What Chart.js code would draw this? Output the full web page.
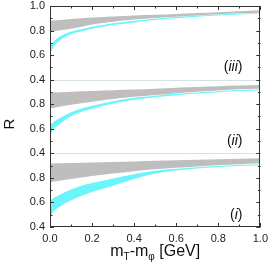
<!DOCTYPE html>
<html>
<head>
<meta charset="utf-8">
<script src="https://cdn.jsdelivr.net/npm/chart.js@4/dist/chart.umd.min.js"></script>
<style>
  html, body { margin: 0; padding: 0; background: #fff; }
</style>
</head>
<body>
<canvas id="ratioChart" width="273" height="271"></canvas>
<script>
// x grids (m_T - m_phi in GeV)
const cyanX = [0, 0.02, 0.05, 0.1, 0.15, 0.2, 0.3, 0.4, 0.5, 0.6, 0.7, 0.8, 0.9, 1.0];
const grayX = [0, 0.1, 0.2, 0.3, 0.4, 0.5, 0.6, 0.7, 0.8, 0.9, 1.0];

// panel (i) - bottom
const cyanHiI = [0.615, 0.64, 0.665, 0.705, 0.735, 0.758, 0.795, 0.83, 0.858, 0.874, 0.887, 0.897, 0.905, 0.912];
const cyanLoI = [0.48, 0.53, 0.57, 0.615, 0.655, 0.685, 0.735, 0.79, 0.835, 0.86, 0.876, 0.888, 0.896, 0.903];
const grayHiI = [0.918, 0.922, 0.926, 0.93, 0.934, 0.939, 0.943, 0.947, 0.951, 0.955, 0.959];
const grayLoI = [0.765, 0.79, 0.815, 0.835, 0.855, 0.87, 0.882, 0.893, 0.903, 0.912, 0.92];

// panel (ii) - middle
const cyanHiII = [0.63, 0.66, 0.69, 0.735, 0.765, 0.787, 0.825, 0.852, 0.87, 0.885, 0.896, 0.906, 0.915, 0.922];
const cyanLoII = [0.55, 0.6, 0.645, 0.703, 0.738, 0.763, 0.805, 0.836, 0.857, 0.874, 0.887, 0.898, 0.907, 0.914];
const grayHiII = [0.895, 0.902, 0.908, 0.914, 0.92, 0.927, 0.934, 0.94, 0.946, 0.952, 0.957];
const grayLoII = [0.765, 0.795, 0.82, 0.843, 0.86, 0.875, 0.89, 0.902, 0.912, 0.921, 0.928];

// panel (iii) - top
const cyanHiIII = [0.67, 0.715, 0.755, 0.79, 0.81, 0.83, 0.86, 0.88, 0.897, 0.91, 0.92, 0.93, 0.938, 0.946];
const cyanLoIII = [0.61, 0.675, 0.725, 0.77, 0.795, 0.815, 0.845, 0.866, 0.885, 0.9, 0.912, 0.922, 0.931, 0.938];
const grayHiIII = [0.88, 0.895, 0.906, 0.915, 0.922, 0.928, 0.935, 0.942, 0.95, 0.957, 0.965];
const grayLoIII = [0.79, 0.815, 0.85, 0.872, 0.89, 0.902, 0.912, 0.922, 0.932, 0.94, 0.947];

const panelNames = ['i', 'ii', 'iii'];
const yTickLabels = ['0.4', '0.6', '0.8', '0.4', '0.6', '0.8', '0.4', '0.6', '0.8', '1.0'];

// each panel shows R from 0.4 to 1.0, stacked on one axis
const R_MIN = 0.4, R_SPAN = 0.6;
const toAxis = (r, panel) => r - R_MIN + panel * R_SPAN;

const GRAY = 'rgb(190,190,190)';
const CYAN = 'rgb(105,245,250)';
const FONT = "'Liberation Sans', Arial, sans-serif";

function band(xs, lo, hi, panel, color) {
  const base = {
    pointRadius: 0,
    borderWidth: 0,
    cubicInterpolationMode: 'monotone',
    backgroundColor: color,
    borderColor: color
  };
  return [
    Object.assign({}, base, { data: xs.map((x, i) => ({ x: x, y: toAxis(lo[i], panel) })), fill: false }),
    Object.assign({}, base, { data: xs.map((x, i) => ({ x: x, y: toAxis(hi[i], panel) })), fill: '-1' })
  ];
}

const datasets = [].concat(
  band(grayX, grayLoI, grayHiI, 0, GRAY),
  band(cyanX, cyanLoI, cyanHiI, 0, CYAN),
  band(grayX, grayLoII, grayHiII, 1, GRAY),
  band(cyanX, cyanLoII, cyanHiII, 1, CYAN),
  band(grayX, grayLoIII, grayHiIII, 2, GRAY),
  band(cyanX, cyanLoIII, cyanHiIII, 2, CYAN)
);

// frame, inward ticks, panel separators and text
const decor = {
  id: 'decor',
  beforeDatasetsDraw(chart) {
    const { ctx, chartArea: a, scales: { y } } = chart;
    ctx.save();
    ctx.lineWidth = 1;
    [[1, '#d4e2e4'], [2, '#d4e2e4']].forEach(([p, c]) => {
      const py = Math.round(y.getPixelForValue(p * R_SPAN)) + 0.5;
      ctx.strokeStyle = c;
      ctx.beginPath();
      ctx.moveTo(a.left, py);
      ctx.lineTo(a.right, py);
      ctx.stroke();
    });
    ctx.restore();
  },
  afterDatasetsDraw(chart) {
    const { ctx, chartArea: a, scales: { x, y } } = chart;
    ctx.save();
    ctx.strokeStyle = '#333';
    ctx.lineWidth = 1;
    ctx.strokeRect(Math.round(a.left) + 0.5, Math.round(a.top) + 0.5,
      Math.round(a.right - a.left) - 1, Math.round(a.bottom - a.top) - 1);

    ctx.beginPath();
    for (let i = 0; i <= 18; i++) {
      const py = Math.round(y.getPixelForValue(i / 10)) + 0.5;
      const len = i % 2 === 0 ? 4 : 2.5;
      ctx.moveTo(a.left, py); ctx.lineTo(a.left + len, py);
      ctx.moveTo(a.right, py); ctx.lineTo(a.right - len, py);
    }
    for (let i = 0; i <= 10; i++) {
      const px = Math.round(x.getPixelForValue(i / 10)) + 0.5;
      const len = i % 2 === 0 ? 4 : 2.5;
      ctx.moveTo(px, a.bottom); ctx.lineTo(px, a.bottom - len);
      ctx.moveTo(px, a.top); ctx.lineTo(px, a.top + len);
    }
    ctx.stroke();

    // panel labels (i), (ii), (iii)
    ctx.fillStyle = '#111';
    ctx.textBaseline = 'middle';
    panelNames.forEach((name, p) => {
      const right = x.getPixelForValue(0.915);
      const py = y.getPixelForValue(toAxis(0.5, p));
      ctx.font = '14px ' + FONT;
      const wP = ctx.measureText(')').width;
      ctx.font = 'italic 14px ' + FONT;
      const wN = ctx.measureText(name).width;
      let px = right - wP - wN - wP;
      ctx.font = '14px ' + FONT;
      ctx.fillText('(', px, py);
      px += wP;
      ctx.font = 'italic 14px ' + FONT;
      ctx.fillText(name, px, py);
      px += wN;
      ctx.font = '14px ' + FONT;
      ctx.fillText(')', px, py);
    });

    // y title
    ctx.save();
    ctx.translate(10, 124);
    ctx.rotate(-Math.PI / 2);
    ctx.font = '15px ' + FONT;
    ctx.textAlign = 'center';
    ctx.textBaseline = 'middle';
    ctx.fillText('R', 0, 0);
    ctx.restore();

    // x title: m_T-m_phi [GeV]
    const parts = [['m', 16, 0], ['T', 10, 4], ['-m', 16, 0], ['\u03c6', 10, 4], [' [GeV]', 16, 0]];
    ctx.textBaseline = 'alphabetic';
    ctx.textAlign = 'left';
    let total = 0;
    parts.forEach(([t, s]) => { ctx.font = s + 'px ' + FONT; total += ctx.measureText(t).width; });
    let tx = (a.left + a.right) / 2 - total / 2;
    const base = 256;
    parts.forEach(([t, s, dy]) => {
      ctx.font = s + 'px ' + FONT;
      ctx.fillText(t, tx, base + dy);
      tx += ctx.measureText(t).width;
    });
    ctx.restore();
  }
};

new Chart(document.getElementById('ratioChart'), {
  type: 'line',
  data: { datasets: datasets },
  options: {
    responsive: false,
    animation: false,
    layout: { padding: { left: 0, right: 9, top: 6, bottom: 0 } },
    plugins: { legend: { display: false }, tooltip: { enabled: false } },
    scales: {
      x: {
        type: 'linear',
        min: 0,
        max: 1,
        grid: { display: false, drawTicks: false },
        border: { display: false },
        ticks: {
          stepSize: 0.2,
          padding: 5,
          color: '#222',
          font: { family: FONT, size: 11 },
          callback: v => v.toFixed(1)
        },
        afterFit: s => { s.height = 44; }
      },
      y: {
        type: 'linear',
        min: 0,
        max: 3 * R_SPAN,
        grid: { display: false, drawTicks: false },
        border: { display: false },
        ticks: {
          stepSize: 0.2,
          padding: 5,
          autoSkip: false,
          color: '#222',
          font: { family: FONT, size: 11 },
          callback: v => yTickLabels[Math.round(v / 0.2)]
        },
        afterFit: s => { s.width = 50; s.paddingTop = 0; s.paddingBottom = 0; }
      }
    }
  },
  plugins: [decor]
});
</script>
</body>
</html>
